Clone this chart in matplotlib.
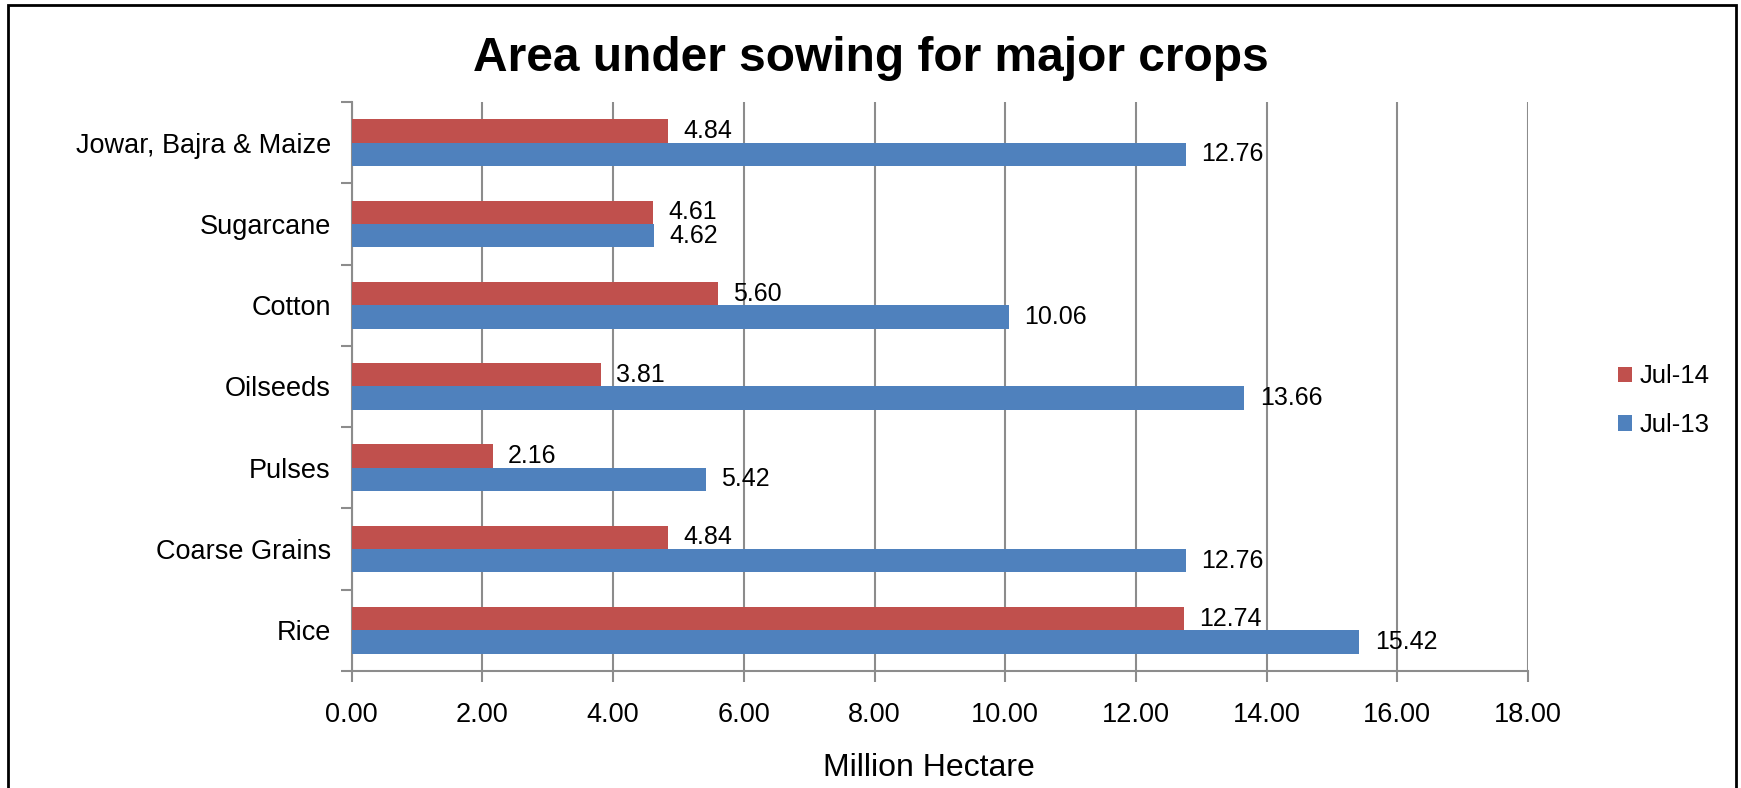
import numpy as np
import matplotlib
matplotlib.use("Agg")
import matplotlib.pyplot as plt
from matplotlib.patches import Rectangle

plt.rcParams['font.family'] = ['Liberation Sans', 'DejaVu Sans']

crops = ["Rice", "Coarse Grains", "Pulses", "Oilseeds", "Cotton", "Sugarcane",
         "Jowar, Bajra & Maize"]
jul14 = [12.74, 4.84, 2.16, 3.81, 5.60, 4.61, 4.84]
jul13 = [15.42, 12.76, 5.42, 13.66, 10.06, 4.62, 12.76]

red = "#C0504D"
blue = "#4F81BD"
grid_col = "#8C8C8C"

fig = plt.figure(figsize=(17.41, 7.88), dpi=100)
ax = fig.add_axes([0.2020, 0.1485, 0.8777 - 0.2020, 0.8706 - 0.1485])

y = np.arange(len(crops))
h = 0.287
b14 = ax.barh(y + h / 2, jul14, height=h, color=red, label="Jul-14", zorder=3)
b13 = ax.barh(y - h / 2, jul13, height=h, color=blue, label="Jul-13", zorder=3)

for bars, vals in ((b14, jul14), (b13, jul13)):
    for bar, v in zip(bars, vals):
        ax.annotate(f"{v:.2f}", (v, bar.get_y() + bar.get_height() / 2),
                    xytext=(11, 0), textcoords="offset points",
                    ha="left", va="center", fontsize=18, color="black")

ax.set_xlim(0, 18)
ax.set_ylim(-0.5, len(crops) - 0.5)
ax.set_xticks(np.arange(0, 18.1, 2))
ax.set_xticklabels([f"{t:.2f}" for t in np.arange(0, 18.1, 2)], fontsize=19.5)
ax.set_yticks(y)
ax.set_yticklabels(crops, fontsize=19.5)
ax.tick_params(axis="y", length=0, pad=15)
ax.set_yticks(np.arange(-0.5, len(crops)), minor=True)
ax.tick_params(axis="y", which="minor", length=8, width=1.5, color=grid_col)
ax.tick_params(axis="x", length=8, width=1.5, color=grid_col, pad=14)

ax.grid(axis="x", color=grid_col, linewidth=1.5, zorder=0)
for s in ("top", "right"):
    ax.spines[s].set_visible(False)
for s in ("left", "bottom"):
    ax.spines[s].set_color(grid_col)
    ax.spines[s].set_linewidth(1.5)

ax.set_xlabel("Million Hectare", fontsize=23, va="center")
ax.xaxis.set_label_coords(0.4906, -0.171)

fig.text(0.5, 0.926, "Area under sowing for major crops", ha="center",
         va="center", fontsize=34.5, fontweight="bold")

ax.legend(loc="center left", bbox_to_anchor=(0.916, 0.4915), bbox_transform=fig.transFigure,
          frameon=False, fontsize=18.5, handlelength=0.55, handleheight=0.55,
          handletextpad=0.3, labelspacing=0.95)

fig.patches.append(Rectangle((0.0046, -0.05), 0.9925, 0.9937 + 0.05,
                             transform=fig.transFigure, fill=False,
                             edgecolor="black", linewidth=2))

fig.savefig("out.png", dpi=100)
